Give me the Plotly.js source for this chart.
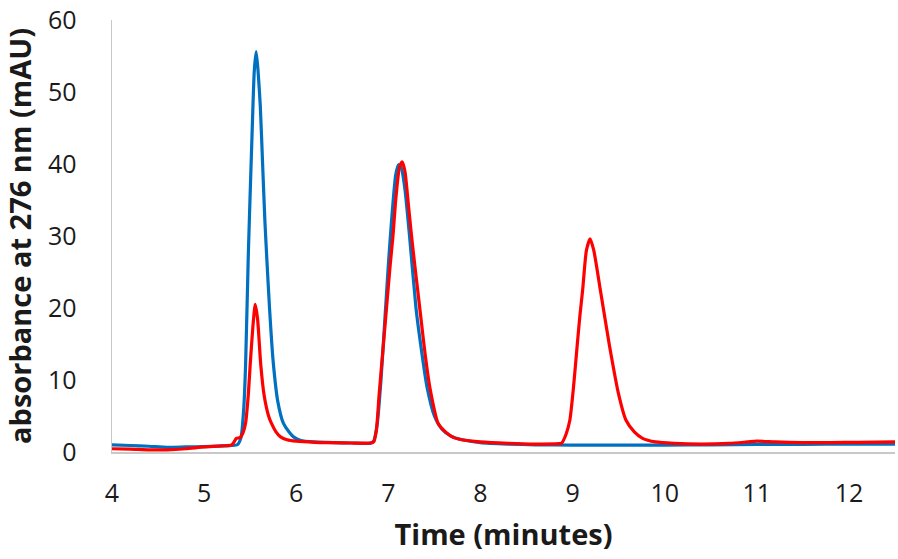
<!DOCTYPE html>
<html>
<head>
<meta charset="utf-8">
<script src="https://cdn.plot.ly/plotly-3.0.1.min.js"></script>
<style>html,body{margin:0;padding:0;background:#fff;}#chart{width:898px;height:559px;}</style>
</head>
<body>
<div id="chart"></div>
<script>
// Blue trace (time in minutes, absorbance mAU)
const blueTime = [4.0, 4.2, 4.4, 4.6, 4.8, 5.0, 5.2, 5.3, 5.36, 5.40, 5.43, 5.45, 5.48, 5.52, 5.545, 5.565, 5.585, 5.61, 5.635, 5.66, 5.68, 5.71, 5.75, 5.8, 5.86, 5.92, 5.97, 6.05, 6.2, 6.4, 6.6, 6.8, 6.84, 6.88, 6.92, 6.96, 7.0, 7.04, 7.08, 7.11, 7.14, 7.18, 7.23, 7.3, 7.35, 7.42, 7.5, 7.58, 7.68, 7.8, 8.0, 8.3, 8.6, 9.0, 9.5, 10.0, 10.5, 11.0, 11.5, 12.0, 12.5];
const blueAbs  = [1.0, 0.9, 0.8, 0.65, 0.7, 0.75, 0.85, 0.9, 1.0, 2.0, 6.0, 12.0, 27.5, 44.0, 53.0, 55.6, 53.0, 48.0, 40.0, 32.0, 27.0, 20.0, 12.5, 7.0, 4.0, 2.8, 2.1, 1.6, 1.4, 1.3, 1.25, 1.2, 1.5, 4.0, 10.0, 18.0, 26.0, 33.0, 38.5, 39.9, 39.5, 36.5, 30.0, 20.0, 15.0, 9.0, 5.0, 3.2, 2.2, 1.7, 1.3, 1.1, 1.0, 0.95, 0.95, 0.95, 1.0, 1.05, 1.05, 1.1, 1.1];

// Red trace
const redTime = [4.0, 4.2, 4.4, 4.6, 4.8, 5.0, 5.2, 5.30, 5.33, 5.35, 5.39, 5.42, 5.45, 5.48, 5.50, 5.53, 5.555, 5.58, 5.615, 5.65, 5.70, 5.73, 5.78, 5.83, 5.90, 6.0, 6.2, 6.4, 6.6, 6.8, 6.84, 6.87, 6.90, 6.94, 6.98, 7.02, 7.05, 7.08, 7.12, 7.15, 7.18, 7.22, 7.26, 7.30, 7.35, 7.40, 7.45, 7.54, 7.62, 7.71, 7.8, 8.0, 8.3, 8.6, 8.85, 8.88, 8.93, 8.97, 9.01, 9.05, 9.08, 9.11, 9.15, 9.19, 9.23, 9.30, 9.40, 9.50, 9.58, 9.67, 9.76, 9.9, 10.1, 10.4, 10.7, 10.9, 11.0, 11.2, 11.5, 11.8, 12.1, 12.5];
const redAbs  = [0.45, 0.4, 0.3, 0.3, 0.45, 0.7, 0.85, 1.0, 1.5, 1.9, 2.0, 2.6, 4.0, 8.0, 12.1, 17.5, 20.5, 18.5, 12.1, 8.0, 5.0, 4.0, 2.8, 2.1, 1.7, 1.5, 1.35, 1.3, 1.25, 1.25, 1.4, 3.0, 8.0, 14.0, 20.0, 26.0, 30.0, 35.0, 39.5, 40.3, 39.0, 34.0, 29.0, 24.5, 19.0, 13.5, 9.0, 4.0, 2.8, 2.0, 1.7, 1.4, 1.2, 1.1, 1.15, 1.2, 2.5, 4.4, 9.0, 14.8, 19.0, 22.6, 28.0, 29.6, 28.0, 22.6, 14.8, 8.0, 4.4, 2.8, 1.9, 1.4, 1.2, 1.1, 1.2, 1.4, 1.5, 1.4, 1.3, 1.3, 1.35, 1.4];

const xTicks = [4, 5, 6, 7, 8, 9, 10, 11, 12];
const yTicks = [0, 10, 20, 30, 40, 50, 60];

const traces = [
  {x: blueTime, y: blueAbs, type: 'scatter', mode: 'lines',
   line: {color: '#0070C0', width: 3.2, shape: 'spline', smoothing: 0.6}, hoverinfo: 'skip'},
  {x: redTime, y: redAbs, type: 'scatter', mode: 'lines',
   line: {color: '#FF0000', width: 3.2, shape: 'spline', smoothing: 0.6}, hoverinfo: 'skip'}
];

const layout = {
  width: 898, height: 559,
  margin: {l: 112, r: 3, t: 20, b: 107},
  paper_bgcolor: '#ffffff', plot_bgcolor: '#ffffff',
  showlegend: false,
  font: {family: 'Open Sans, sans-serif', color: '#1a1a1a'},
  xaxis: {
    range: [4, 12.5], tickvals: xTicks, ticktext: xTicks.map(String),
    showgrid: false, zeroline: false, showline: true, linecolor: '#c8c8c8', linewidth: 1.5,
    ticks: '', ticklabelstandoff: 18, ticklabeloverflow: 'allow',
    tickfont: {size: 25, family: 'Open Sans, sans-serif', color: '#1a1a1a'},
    title: {text: 'Time (minutes)', font: {size: 29, family: 'Open Sans, sans-serif', weight: 'bold', color: '#1a1a1a'}, standoff: 17}
  },
  yaxis: {
    range: [0, 60], tickvals: yTicks, ticktext: yTicks.map(String),
    showgrid: false, zeroline: false, showline: true, linecolor: '#c8c8c8', linewidth: 1.5,
    ticks: '', ticklabelstandoff: 29, ticklabeloverflow: 'allow',
    tickfont: {size: 25, family: 'Open Sans, sans-serif', color: '#1a1a1a'},
    title: {text: 'absorbance at 276 nm (mAU)', font: {size: 29, family: 'Open Sans, sans-serif', weight: 'bold', color: '#1a1a1a'}, standoff: 9}
  }
};

Plotly.newPlot('chart', traces, layout, {displayModeBar: false, staticPlot: true});
</script>
</body>
</html>
